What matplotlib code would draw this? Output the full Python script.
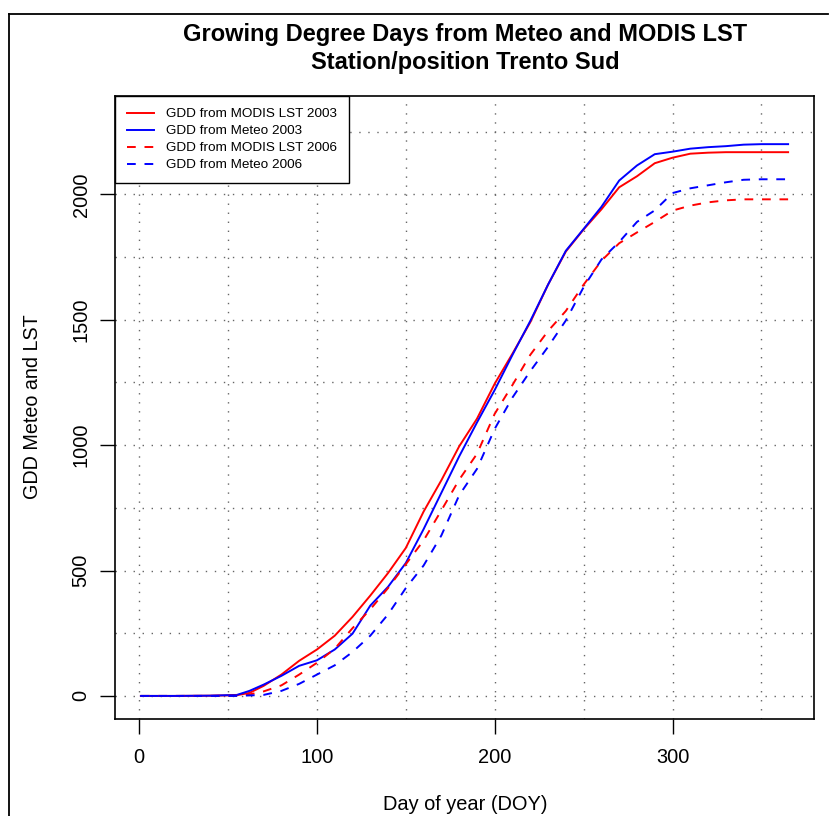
import matplotlib
matplotlib.use("Agg")
import matplotlib.pyplot as plt
from matplotlib.lines import Line2D

plt.rcParams['font.family'] = ['Liberation Sans', 'DejaVu Sans']

# ---- data ----
doy = [1, 20, 40, 55, 62, 70, 80, 90, 100, 110, 120, 130, 140, 150, 160, 170,
       180, 190, 200, 210, 220, 230, 240, 250, 260, 270, 280, 290, 300, 310,
       320, 330, 340, 350, 365]
gdd_modis_2003 = [0, 0, 1, 3, 12, 40, 85, 140, 185, 240, 315, 400, 490, 590,
                  735, 860, 995, 1105, 1245, 1365, 1490, 1640, 1772, 1860,
                  1940, 2028, 2072, 2124, 2146, 2162, 2166, 2168, 2168, 2168, 2168]
gdd_meteo_2003 = [0, 0, 1, 4, 20, 45, 80, 120, 142, 185, 248, 360, 435, 530,
                  665, 810, 955, 1090, 1220, 1360, 1495, 1640, 1775, 1862,
                  1950, 2055, 2115, 2160, 2170, 2182, 2188, 2192, 2198, 2200, 2200]
gdd_modis_2006 = [0, 0, 0, 1, 6, 18, 42, 85, 132, 188, 270, 345, 430, 525,
                  620, 740, 862, 965, 1125, 1240, 1360, 1455, 1535, 1640,
                  1735, 1805, 1848, 1890, 1935, 1955, 1968, 1976, 1980, 1980, 1980]
gdd_meteo_2006 = [0, 0, 0, 0, 2, 4, 20, 48, 85, 122, 175, 240, 325, 430,
                  520, 640, 800, 905, 1065, 1190, 1295, 1392, 1497, 1630,
                  1740, 1810, 1890, 1936, 2005, 2024, 2036, 2048, 2058, 2060, 2060]

series = [
    ("GDD from MODIS LST 2003", gdd_modis_2003, "#ff0000", "solid"),
    ("GDD from Meteo 2003", gdd_meteo_2003, "#0000ff", "solid"),
    ("GDD from MODIS LST 2006", gdd_modis_2006, "#ff0000", "dashed"),
    ("GDD from Meteo 2006", gdd_meteo_2006, "#0000ff", "dashed"),
]
x_ticks = [0, 100, 200, 300]
y_ticks = [0, 500, 1000, 1500, 2000]
x_grid = [0, 50, 100, 150, 200, 250, 300, 350]
y_grid = [0, 250, 500, 750, 1000, 1250, 1500, 1750, 2000, 2250]

W, H = 838, 816
fig = plt.figure(figsize=(W / 100, H / 100), dpi=100)
fig.patch.set_facecolor("white")
ax = fig.add_axes([115 / W, 1 - 719 / H, (814 - 115) / W, (719 - 96) / H])

# outer frame (partial, as in the screenshot)
fig.add_artist(Line2D([9 / W, 9 / W], [0, 1 - 14 / H], transform=fig.transFigure,
                      color="black", lw=1.3))
fig.add_artist(Line2D([9 / W, 828 / W], [1 - 14 / H, 1 - 14 / H], transform=fig.transFigure,
                      color="black", lw=1.3))

# grid
for gx in x_grid:
    ax.axvline(gx, color="#666666", lw=1.0, dashes=(1, 5.5), zorder=1)
for gy in y_grid:
    ax.axhline(gy, color="#666666", lw=1.0, dashes=(1, 5.5), zorder=1)

handles = []
for label, vals, col, ls in series:
    if ls == "dashed":
        ln, = ax.plot(doy, vals, color=col, lw=1.4, dashes=(4.5, 4.5), label=label, zorder=3)
    else:
        ln, = ax.plot(doy, vals, color=col, lw=1.4, label=label, zorder=3)
    handles.append(ln)

xr = 365 - 1
ax.set_xlim(1 - 0.04 * xr, 365 + 0.04 * xr)
ax.set_ylim(-0.04 * 2300, 2300 * 1.04)

ax.set_xticks(x_ticks)
ax.set_yticks(y_ticks)
ax.set_xticklabels([str(v) for v in x_ticks])
ax.set_yticklabels([str(v) for v in y_ticks], rotation=90, va="center")
ax.tick_params(axis="both", direction="out", length=11, width=1, labelsize=14.4,
               colors="black")
ax.tick_params(axis="x", pad=10)
ax.tick_params(axis="y", pad=6.5)
for sp in ax.spines.values():
    sp.set_linewidth(1.2)
    sp.set_color("black")

leg = ax.legend(handles=handles, loc="upper left", bbox_to_anchor=(0, 1),
                borderaxespad=0, fontsize=9.7, frameon=True, fancybox=False,
                edgecolor="black", handlelength=2.0, handletextpad=0.9,
                labelspacing=0.34, borderpad=0.88, framealpha=1)
leg.get_frame().set_linewidth(1.0)

fig.text(465 / W, 1 - 34 / H, "Growing Degree Days from Meteo and MODIS LST",
         ha="center", va="center", fontsize=17, fontweight="bold")
fig.text(465 / W, 1 - 63 / H, "Station/position Trento Sud",
         ha="center", va="center", fontsize=17, fontweight="bold")
fig.text(465 / W, 1 - 804 / H, "Day of year (DOY)", ha="center", va="center", fontsize=14.4)
fig.text(33 / W, 1 - 407 / H, "GDD Meteo and LST", ha="center", va="center",
         fontsize=14.2, rotation=90)

fig.savefig("out.png", dpi=100)
